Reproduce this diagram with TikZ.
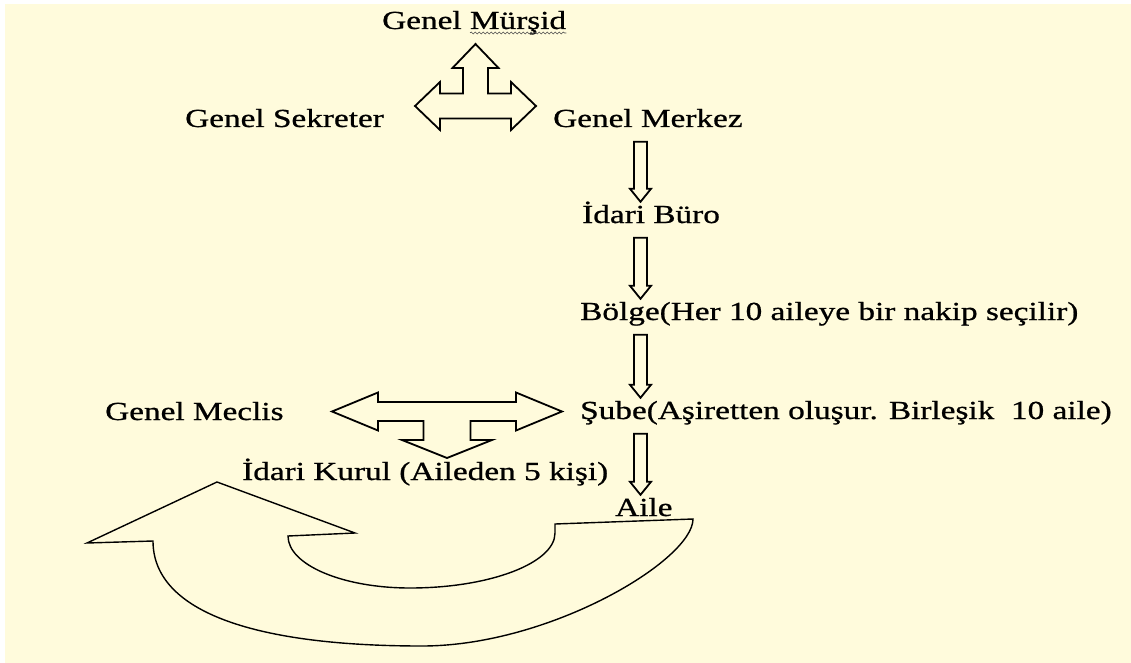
\documentclass[tikz,border=0pt]{standalone}
\usepackage{fontspec}
\setmainfont{Liberation Serif}[FakeStretch=1.28, FakeBold=0.8]
\usepackage{tikz}
\usetikzlibrary{calc, positioning, decorations.pathmorphing}
\definecolor{paper}{HTML}{FFFBDC}
\tikzset {
    txt/.style = {
        anchor = base west,
        inner sep = 0pt,
        text height = 19pt,
        text depth = 6.5pt,
        font = \fontsize{26}{31}\selectfont
    },
    block/.style = {
        draw,
        line width = 1.8pt,
        line join = miter
    },
    blockdown/.style = {
        block,
        to path = {
            let \p1 = (\tikztostart), \p2 = (\tikztotarget) in
            (\x1-6.5pt, \y1-8pt) -- (\x1+6.5pt, \y1-8pt)
            -- (\x1+6.5pt, \y2+15pt) -- (\x1+10.5pt, \y2+15pt)
            -- (\x1, \y2+2pt) -- (\x1-10.5pt, \y2+15pt)
            -- (\x1-6.5pt, \y2+15pt) -- cycle
        }
    },
    curve/.style = {
        draw,
        line width = 1.4pt,
        line join = miter
    },
    squiggle/.style = {
        draw = black!70,
        line width = 0.6pt,
        decorate,
        decoration = {snake, amplitude=1pt, segment length=4pt}
    }
}

\begin{document}
\begin{tikzpicture}[x=1pt, y=-1pt]
        \useasboundingbox (0, 0) rectangle (1131, 663);
        \fill [paper] (5, 4) rectangle (1131, 663);

        % Top : Genel Murshid, Genel Sekreter, Genel Merkez
        \node [txt] at (382, 29)            (mursid)    {Genel Mürşid};
        \node [txt] at (185, 127)           (sekreter)  {Genel Sekreter};
        \node [txt] at (553, 127)           (merkez)    {Genel Merkez};

        % Right column : the chain going down
        \node [txt] at (582, 223)           (buro)      {İdari Büro};
        \node [txt] at (580, 320)           (bolge)     {Bölge(Her 10 aileye bir nakip seçilir)};
        \node [txt] at (580, 419)           (sube)      {Şube(Aşiretten oluşur. Birleşik\ \ 10 aile)};
        \node [txt] at (615, 516)           (aile)      {Aile};

        % Left : Genel Meclis, Idari Kurul
        \node [txt] at (105, 420)           (meclis)    {Genel Meclis};
        \node [txt] at (242, 480)           (kurul)     {İdari Kurul (Aileden 5 kişi)};

        % Hubs of the two three-way arrows, and the column of the down arrows
        \coordinate (hubtop) at (475.5, 106);
        \coordinate (hubmid) at (447, 411.5);
        \coordinate (col)    at (640.5, 0);

        \draw [squiggle] ([xshift=88pt, yshift=-4pt]mursid.base west) -- ([yshift=-4pt]mursid.base east);

        % Up / left / right arrow
        \draw [block, shift={(hubtop)}]
            (0, -62) -- (23, -38) -- (12.5, -38) -- (12.5, -12.5) -- (35.5, -12.5) -- (35.5, -24)
            -- (60.5, 0) -- (35.5, 24) -- (35.5, 12.5) -- (-35.5, 12.5) -- (-35.5, 24) -- (-60.5, 0)
            -- (-35.5, -24) -- (-35.5, -12.5) -- (-12.5, -12.5) -- (-12.5, -38) -- (-23, -38) -- cycle;

        % Left / right / down arrow
        \draw [block, shift={(hubmid)}]
            (-115, 0) -- (-69, -19) -- (-69, -9.5) -- (69, -9.5) -- (69, -19) -- (115, 0)
            -- (69, 19) -- (69, 9.5) -- (23.5, 9.5) -- (23.5, 28.5) -- (45, 28.5) -- (0, 46.5)
            -- (-45, 28.5) -- (-23.5, 28.5) -- (-23.5, 9.5) -- (-69, 9.5) -- (-69, 19) -- cycle;

        \path [blockdown]   (merkez.south -| col)   to  (buro.north);
        \path [blockdown]   (buro.south -| col)     to  (bolge.north);
        \path [blockdown]   (bolge.south -| col)    to  (sube.north);
        \path [blockdown]   (sube.south -| col)     to  (aile.north);

        % Big U-turn arrow under Aile
        \draw [curve] (217, 482) -- (355, 533) -- (288, 536)
            .. controls (288, 565) and (343, 588) .. (410, 588)
            .. controls (490, 588) and (555, 563) .. (555, 533)
            -- (555, 524) -- (693, 519)
            .. controls (693, 560) and (550, 646) .. (422, 646)
            .. controls (247, 646) and (153, 609) .. (153, 541)
            -- (87, 543) -- cycle;
    \end{tikzpicture}
\end{document}
